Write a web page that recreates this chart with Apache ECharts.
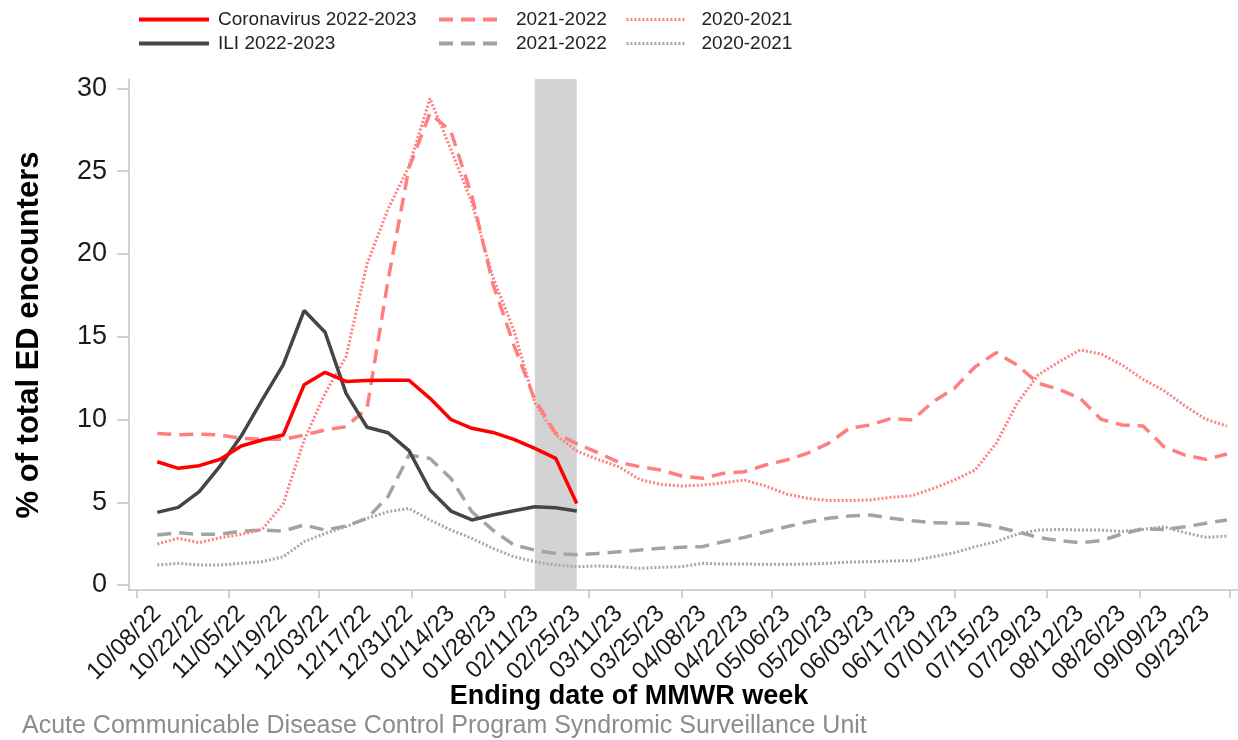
<!DOCTYPE html>
<html>
<head>
<meta charset="utf-8">
<script src="https://cdn.jsdelivr.net/npm/echarts@6/dist/echarts.min.js"></script>
<style>
html,body{margin:0;padding:0;background:#fff;}
#chart{width:1238px;height:740px;}
</style>
</head>
<body>
<div id="chart"></div>
<script>
// week ending dates (MMWR)
var weeks = ['2022-10-08','2022-10-15','2022-10-22','2022-10-29','2022-11-05','2022-11-12','2022-11-19','2022-11-26',
  '2022-12-03','2022-12-10','2022-12-17','2022-12-24','2022-12-31','2023-01-07','2023-01-14','2023-01-21','2023-01-28',
  '2023-02-04','2023-02-11','2023-02-18','2023-02-25','2023-03-04','2023-03-11','2023-03-18','2023-03-25','2023-04-01',
  '2023-04-08','2023-04-15','2023-04-22','2023-04-29','2023-05-06','2023-05-13','2023-05-20','2023-05-27','2023-06-03',
  '2023-06-10','2023-06-17','2023-06-24','2023-07-01','2023-07-08','2023-07-15','2023-07-22','2023-07-29','2023-08-05',
  '2023-08-12','2023-08-19','2023-08-26','2023-09-02','2023-09-09','2023-09-16','2023-09-23','2023-09-30'];
// axis ticks at start of each month
var monthTicks = ['2022-10-01','2022-11-01','2022-12-01','2023-01-01','2023-02-01','2023-03-01','2023-04-01',
  '2023-05-01','2023-06-01','2023-07-01','2023-08-01','2023-09-01','2023-10-01'];
var yTicks = [0, 5, 10, 15, 20, 25, 30];
var shadeWeeks = ['2023-02-11', '2023-02-25'];

var covid2223 = [7.45, 7.05, 7.21, 7.6, 8.4, 8.76, 9.06, 12.1, 12.85, 12.3, 12.35, 12.37, 12.37, 11.28, 10.0, 9.47,
  9.22, 8.8, 8.26, 7.65, 4.93];
var ili2223 = [4.39, 4.69, 5.64, 7.2, 9.0, 11.18, 13.3, 16.58, 15.27, 11.58, 9.53, 9.2, 8.12, 5.74, 4.47, 3.93,
  4.23, 4.49, 4.73, 4.67, 4.47];
var covid2122 = [9.16, 9.08, 9.12, 9.06, 8.86, 8.8, 8.8, 9.06, 9.37, 9.57, 10.67, 18.4, 25.2, 28.5, 27.4, 23.5,
  18.2, 14.5, 11.2, 9.16, 8.54, 8.0, 7.42, 7.15, 6.95, 6.59, 6.45, 6.75, 6.85, 7.25, 7.55, 7.96, 8.56, 9.47, 9.67,
  10.07, 9.97, 11.08, 11.88, 13.19, 14.04, 13.29, 12.19, 11.82, 11.28, 10.01, 9.67, 9.61, 8.36, 7.85, 7.59, 7.92];
var covid2021 = [2.48, 2.82, 2.56, 2.86, 3.06, 3.36, 4.9, 8.76, 11.58, 13.8, 19.4, 22.7, 25.3, 29.4, 26.3, 23.1,
  18.6, 15.4, 11.0, 9.06, 8.1, 7.59, 7.15, 6.38, 6.08, 5.98, 6.04, 6.18, 6.34, 5.98, 5.5, 5.24, 5.1, 5.1, 5.14,
  5.3, 5.4, 5.84, 6.34, 6.95, 8.56, 10.98, 12.69, 13.49, 14.2, 13.96, 13.29, 12.43, 11.74, 10.82, 10.01, 9.61];
var ili2122 = [3.02, 3.16, 3.06, 3.08, 3.26, 3.32, 3.26, 3.63, 3.32, 3.57, 4.03, 5.34, 7.85, 7.65, 6.44, 4.43,
  3.32, 2.42, 2.11, 1.91, 1.83, 1.91, 2.01, 2.11, 2.22, 2.28, 2.32, 2.62, 2.88, 3.22, 3.52, 3.81, 4.03, 4.17, 4.23,
  4.03, 3.89, 3.77, 3.73, 3.73, 3.52, 3.22, 2.88, 2.68, 2.56, 2.68, 3.08, 3.4, 3.36, 3.52, 3.73, 3.93];
var ili2021 = [1.21, 1.31, 1.21, 1.21, 1.31, 1.41, 1.71, 2.62, 3.12, 3.52, 4.03, 4.43, 4.63, 3.93, 3.32, 2.82,
  2.22, 1.71, 1.41, 1.21, 1.11, 1.15, 1.11, 1.01, 1.07, 1.11, 1.31, 1.27, 1.27, 1.25, 1.25, 1.27, 1.31, 1.39, 1.41,
  1.45, 1.47, 1.71, 1.95, 2.32, 2.62, 3.08, 3.32, 3.36, 3.32, 3.32, 3.24, 3.36, 3.52, 3.16, 2.88, 2.96];

var DAY = 86400000;
function t(s) { var p = s.split('-'); return Date.UTC(+p[0], +p[1] - 1, +p[2]); }
function pairs(vals) { return vals.map(function (v, i) { return [t(weeks[i]), v]; }); }
function pad(n) { return (n < 10 ? '0' : '') + n; }

var t0 = t(weeks[0]);
// labels every other week
var labelVals = weeks.filter(function (w, i) { return i % 2 === 0; }).map(t);

var myChart = echarts.init(document.getElementById('chart'));
var font = 'Liberation Sans';
var axisColor = '#c4c4c4';

// one legend column per line style
function legendCol(left, width, textPad, lineWidth, names) {
  return {
    left: left, top: 10, orient: 'vertical', padding: 0,
    itemWidth: width, itemHeight: 14, itemGap: 5, selectedMode: false,
    itemStyle: { opacity: 0 },
    lineStyle: { width: lineWidth },
    textStyle: { fontSize: 19, color: '#222', fontFamily: font, padding: [0, 0, 0, textPad] },
    data: names
  };
}

var option = {
  animation: false,
  backgroundColor: '#fff',
  grid: { left: 129, right: 0, top: 79, bottom: 150, containLabel: false, outerBoundsMode: 'none' },
  legend: [
    legendCol(137, 70, 4, 4, ['Coronavirus 2022-2023', 'ILI 2022-2023']),
    legendCol(437, 65, 7, 4, ['2021-2022', '2021-2022 ']),
    legendCol(625, 60, 10, 3, ['2020-2021', '2020-2021 '])
  ],
  xAxis: {
    type: 'value',
    min: t0 - 9.45 * DAY,
    max: t0 + 360.7 * DAY,
    axisLine: { show: true, onZero: false, lineStyle: { color: axisColor, width: 1.5 } },
    axisTick: { show: true, length: 8, customValues: monthTicks.map(t), lineStyle: { color: axisColor, width: 1.5 } },
    axisLabel: {
      customValues: labelVals,
      rotate: 45,
      margin: 20,
      fontSize: 24,
      color: '#1a1a1a',
      fontFamily: font,
      formatter: function (v) {
        var d = new Date(v);
        return pad(d.getUTCMonth() + 1) + '/' + pad(d.getUTCDate()) + '/' + String(d.getUTCFullYear()).slice(2);
      }
    },
    splitLine: { show: false }
  },
  yAxis: {
    type: 'value',
    min: -0.3,
    max: 30.57,
    axisLine: { show: true, lineStyle: { color: axisColor, width: 1.5 } },
    axisTick: { show: true, length: 12, customValues: yTicks, lineStyle: { color: axisColor, width: 1.5 } },
    axisLabel: { customValues: yTicks, fontSize: 27, color: '#1a1a1a', margin: 22, fontFamily: font },
    splitLine: { show: false }
  },
  graphic: [
    { type: 'text', x: 29, y: 335, rotation: Math.PI / 2,
      style: { text: '% of total ED encounters', font: 'bold 31px "Liberation Sans"', fill: '#000', align: 'center', verticalAlign: 'middle' } },
    { type: 'text', x: 629, y: 697,
      style: { text: 'Ending date of MMWR week', font: 'bold 27px "Liberation Sans"', fill: '#000', align: 'center', verticalAlign: 'middle' } },
    { type: 'text', x: 22, y: 726,
      style: { text: 'Acute Communicable Disease Control Program Syndromic Surveillance Unit', font: '25px "Liberation Sans"', fill: '#8c8c8c', align: 'left', verticalAlign: 'middle' } }
  ],
  series: [
    {
      name: '2020-2021 ', type: 'line', symbol: 'none', data: pairs(ili2021),
      lineStyle: { color: '#a8a8a8', width: 3, type: [2, 2] }, itemStyle: { color: '#a8a8a8' },
      markArea: {
        silent: true,
        itemStyle: { color: '#d3d3d3' },
        data: [[{ xAxis: t(shadeWeeks[0]) }, { xAxis: t(shadeWeeks[1]) }]]
      }
    },
    {
      name: '2021-2022 ', type: 'line', symbol: 'none', data: pairs(ili2122),
      lineStyle: { color: '#a3a3a3', width: 3.5, type: [14, 8] }, itemStyle: { color: '#a3a3a3' }
    },
    {
      name: '2020-2021', type: 'line', symbol: 'none', data: pairs(covid2021),
      lineStyle: { color: '#ff8080', width: 3, type: [2, 2] }, itemStyle: { color: '#ff8080' }
    },
    {
      name: '2021-2022', type: 'line', symbol: 'none', data: pairs(covid2122),
      lineStyle: { color: '#ff7f7f', width: 3.5, type: [14, 8] }, itemStyle: { color: '#ff7f7f' }
    },
    {
      name: 'ILI 2022-2023', type: 'line', symbol: 'none', data: pairs(ili2223),
      lineStyle: { color: '#454545', width: 3.5 }, itemStyle: { color: '#454545' }
    },
    {
      name: 'Coronavirus 2022-2023', type: 'line', symbol: 'none', data: pairs(covid2223),
      lineStyle: { color: '#ff0000', width: 3.5 }, itemStyle: { color: '#ff0000' }
    }
  ]
};
myChart.setOption(option);
</script>
</body>
</html>
